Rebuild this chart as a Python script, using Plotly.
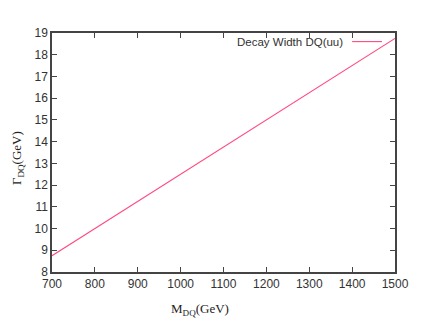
import plotly.graph_objects as go

mass_gev = [700, 800, 900, 1000, 1100, 1200, 1300, 1400, 1500]
width_gev = [8.75, 10.0, 11.25, 12.5, 13.75, 15.0, 16.25, 17.5, 18.75]
series_name = "Decay Width DQ(uu)"
x_ticks = [700, 800, 900, 1000, 1100, 1200, 1300, 1400, 1500]
y_ticks = list(range(8, 20))

line_color = "#ff4a80"
axis_color = "#444444"
tick_font = dict(family="Liberation Sans, Arial, sans-serif", size=12, color="#333333")
title_font = dict(family="Liberation Serif, Times New Roman, serif", size=13, color="#222222")

fig = go.Figure()
fig.add_trace(go.Scatter(x=mass_gev, y=width_gev, mode="lines",
                         line=dict(color=line_color, width=1.1),
                         name=series_name, showlegend=False))

axis_common = dict(showgrid=False, zeroline=False, showline=True, linecolor=axis_color,
                   linewidth=1.5, mirror="ticks", ticks="inside", ticklen=5,
                   tickcolor=axis_color, tickwidth=1, tickfont=tick_font, automargin=False)

fig.update_xaxes(range=[700, 1500], tickvals=x_ticks, **axis_common)
fig.update_yaxes(range=[8, 19], tickvals=y_ticks, **axis_common)

# axis titles
fig.add_annotation(xref="paper", yref="paper", x=0.431, y=-0.155, xanchor="center", yanchor="middle",
                   text="M<sub>DQ</sub>(GeV)", showarrow=False, font=title_font)
fig.add_annotation(xref="paper", yref="paper", x=-0.099, y=0.477, xanchor="center", yanchor="middle",
                   text="Γ<sub>DQ</sub>(GeV)", showarrow=False, textangle=-90, font=title_font)

# legend (text left of sample line, gnuplot style)
fig.add_annotation(xref="paper", yref="paper", x=0.854, y=0.964, xanchor="right", yanchor="middle",
                   text=series_name, showarrow=False,
                   font=dict(family="Liberation Sans, Arial, sans-serif", size=11.5, color="#333333"))
fig.add_shape(type="line", xref="paper", yref="paper", x0=0.875, x1=0.962, y0=0.964, y1=0.964,
              line=dict(color=line_color, width=1.1))

fig.update_layout(width=428, height=319, margin=dict(l=44, r=41, t=25, b=55),
                  paper_bgcolor="white", plot_bgcolor="white")

fig.write_html("out.html")
